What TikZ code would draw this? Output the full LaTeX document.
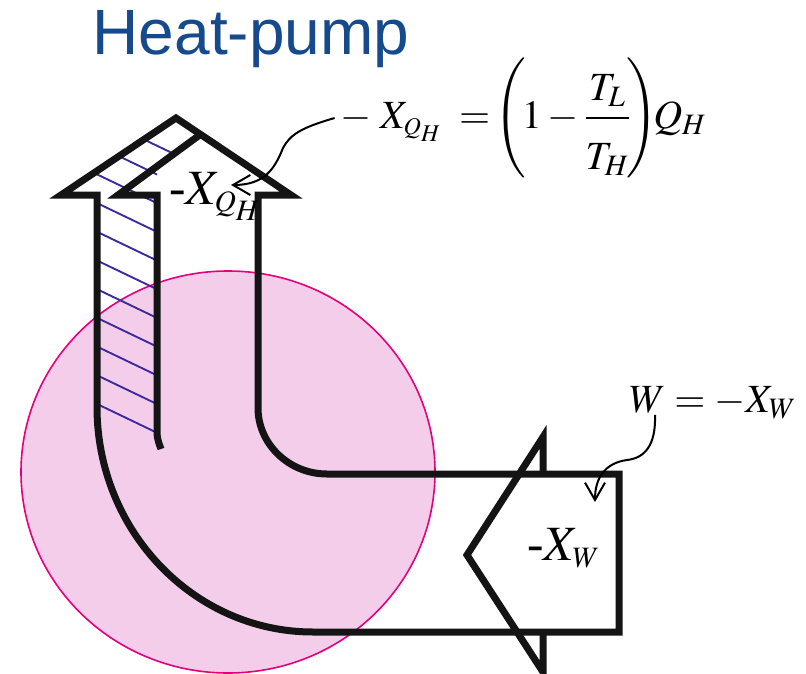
\documentclass[tikz,border=0pt]{standalone}
\usepackage{amsmath}
\usepackage{mathptmx}
\usepackage[no-math]{fontspec}
\setmainfont{Liberation Serif}
\newfontfamily\titlefont{Liberation Sans}
\usetikzlibrary{arrows.meta}
\definecolor{titleblue}{HTML}{164A8C}
\definecolor{circfill}{HTML}{F4CDEB}
\definecolor{circline}{HTML}{E5007D}
\definecolor{hatchblue}{HTML}{3A2A9C}

\begin{document}
\begin{tikzpicture}[x=0.75pt,y=-0.75pt,
    pipe/.style={line width=5.25pt, line join=miter, black!92},
    hatch/.style={hatchblue, line width=1.4pt},
    callout/.style={line width=1.5pt, -{Straight Barb[length=13pt,width=15pt,line width=1.5pt]}},
    lbl/.style={inner sep=0pt, font=\fontsize{37}{44}\selectfont},
    eqn/.style={inner sep=0pt, font=\fontsize{30}{36}\selectfont}]
    \path[use as bounding box, fill=white] (0,0) rectangle (806,674);
    \filldraw[fill=circfill, draw=circline, line width=1.2pt] (228,472) ellipse [x radius=207, y radius=201];

    % hatched strip
    \begin{scope}
        \clip (97,465) -- (97,170) -- (176,118) -- (201,135) -- (157,166) -- (157,465) -- cycle;
        \foreach \y in {117,145.7,...,405}
            \draw[hatch] (90,{\y-3.4}) -- (215,{\y+56.6});
    \end{scope}

    % pipe
    \draw[pipe] (61,195) -- (176,118) -- (291,195) -- (258,195) -- (258,408)
        .. controls (258,444) and (289,474) .. (327,474) -- (619,474) -- (619,632) -- (313,632)
        .. controls (194,632) and (97,531) .. (97,407) -- (97,195) -- cycle;
    \draw[pipe] (201,134) -- (118,195) -- (157,195) -- (157,425) .. controls (157,438) .. (161,449);
    \draw[pipe] (543,474) -- (543,437) -- (467,555) -- (543,672) -- (543,632);

    \node[font=\titlefont\fontsize{48}{56}\selectfont, text=titleblue, anchor=base] (title) at (251,55) {Heat-pump};
    \node[eqn, anchor=base west] (eqQ) at (340,128)
        {$-\;X_{\scriptscriptstyle Q_H}\;=\!\left(\!1-\dfrac{T_L}{\rule{0pt}{1.15em}T_H}\!\right)\!\!Q_H$};
    \node[lbl, anchor=base west] (lblQ) at (169,204) {-$X_{\scriptscriptstyle Q_H}$};
    \node[eqn, anchor=base west] (eqW) at (629,412) {$W=-X_W$};
    \node[lbl, anchor=base west] (lblW) at (527,560) {-$X_{\scriptscriptstyle W}$};

    \coordinate (tipQ) at (231,185);
    \coordinate (tipW) at (595,502);
    \draw[callout] ([xshift=-4pt]eqQ.west) .. controls (300,128) and (290,135) .. (283,148)
        .. controls (275,168) and (265,185) .. (tipQ);
    \draw[callout] ([xshift=19.5pt,yshift=3pt]eqW.south west) .. controls (656,445) and (645,458) .. (627,460)
        .. controls (605,463) and (595,478) .. (tipW);
\end{tikzpicture}
\end{document}
